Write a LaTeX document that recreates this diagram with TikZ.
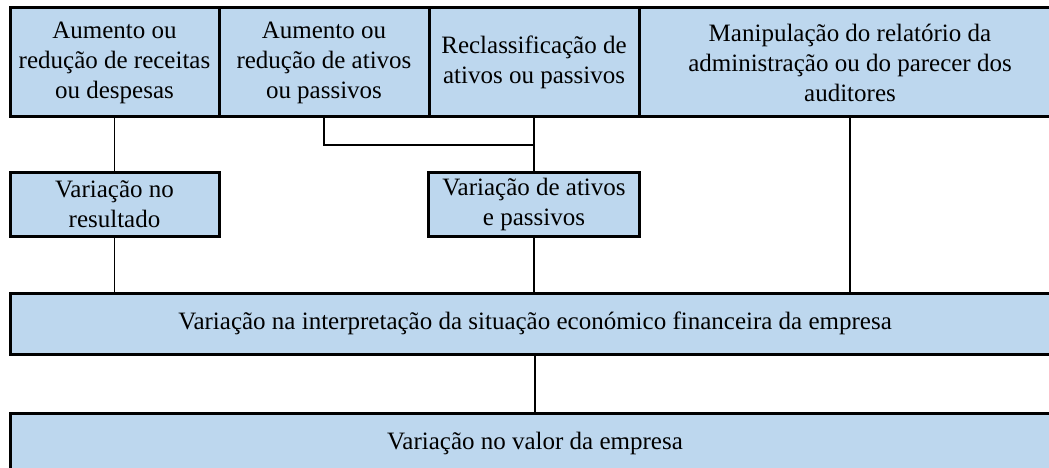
\documentclass[tikz,border=0pt]{standalone}
\usepackage{fontspec}
\setmainfont{Liberation Serif}
\definecolor{cellblue}{RGB}{189,215,238}
\tikzset{
  cell/.style={draw, line width=3pt, fill=cellblue, rectangle, inner sep=0pt, outer sep=0pt,
    align=center, font=\fontsize{25}{30}\selectfont},
  link/.style={line width=1.5pt}
}
\begin{document}
\begin{tikzpicture}[x=1pt,y=-1pt]
    \useasboundingbox (0,0) rectangle (1049,468);
    \clip (0,0) rectangle (1049,468);
    % top row
    \node[cell, minimum width=209pt, minimum height=109pt] (aum1) at (114.5,62.5) {Aumento ou\\redução de receitas\\ou despesas};
    \node[cell, minimum width=210pt, minimum height=109pt] (aum2) at (324,62.5) {Aumento ou\\redução de ativos\\ou passivos};
    \node[cell, minimum width=210pt, minimum height=109pt] (recl) at (534,62.5) {Reclassificação de\\ativos ou passivos};
    \node[cell, minimum width=422pt, minimum height=109pt] (manip) at (850,62.5) {Manipulação do relatório da\\administração ou do parecer dos\\auditores};
    % middle row
    \node[cell, minimum width=209pt, minimum height=64pt] (var1) at (114.5,204) {Variação no\\resultado};
    \node[cell, minimum width=211pt, minimum height=64pt] (var2) at (534,204) {Variação de ativos\\e passivos};
    % bottom rows
    \node[cell, minimum width=1050pt, minimum height=61pt] (interp) at (535,323.5) {Variação na interpretação da situação económico financeira da empresa};
    \node[cell, minimum width=1050pt, minimum height=61pt] (valor) at (535,443.5) {Variação no valor da empresa};

    \coordinate (junc) at (recl.south |- 0,145);
    \draw[link] (aum1.south) -- (var1.north);
    \draw[link] (aum2.south) |- (junc);
    \draw[link] (recl.south) -- (var2.north);
    \draw[link] (var1.south) -- (var1.south |- interp.north);
    \draw[link] (var2.south) -- (var2.south |- interp.north);
    \draw[link] (manip.south) -- (manip.south |- interp.north);
    \draw[link] (interp.south) -- (valor.north);
\end{tikzpicture}
\end{document}
